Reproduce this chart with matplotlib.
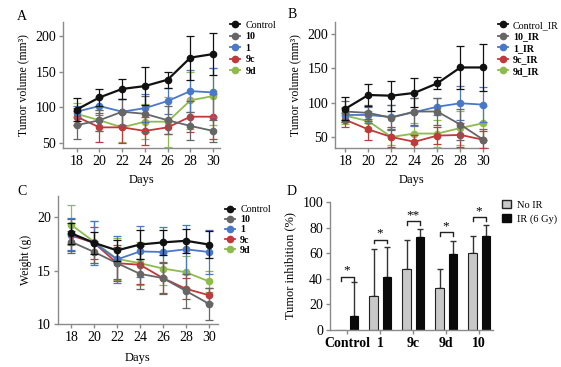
import numpy as np
import matplotlib
matplotlib.use("Agg")
import matplotlib.pyplot as plt
from matplotlib.lines import Line2D
from matplotlib.patches import Patch

plt.rcParams['font.family'] = ['Liberation Serif', 'DejaVu Serif']
plt.rcParams['font.size'] = 9

days = [18, 20, 22, 24, 26, 28, 30]

# panel A - tumor volume, no IR
a_names = ['Control', '10', '1', '9c', '9d']
a_ctrl = [97, 114, 126, 130, 139, 170, 175]
a_10 = [75, 82, 94, 91, 82, 74, 67]
a_1 = [94, 102, 94, 99, 109, 123, 121]
a_9c = [87, 72, 72, 67, 72, 87, 87]
a_9d = [91, 82, 72, 80, 80, 110, 116]
a_ctrl_err = [16, 12, 14, 27, 11, 31, 29]
a_10_err = [20, 15, 18, 25, 20, 20, 15]
a_1_err = [8, 12, 18, 20, 18, 30, 35]
a_9c_err = [12, 20, 22, 20, 10, 22, 32]
a_9d_err = [15, 15, 20, 25, 35, 40, 40]

# panel B - tumor volume, IR
b_names = ['Control_IR', '10_IR', '1_IR', '9c_IR', '9d_IR']
b_ctrl = [91, 111, 110, 114, 128, 151, 151]
b_10 = [87, 85, 78, 87, 87, 68, 46]
b_1 = [82, 82, 79, 86, 94, 99, 97]
b_9c = [75, 61, 50, 43, 52, 53, 46]
b_9d = [81, 73, 50, 55, 55, 63, 70]
b_ctrl_err = [17, 16, 22, 21, 9, 31, 34]
b_10_err = [15, 12, 18, 20, 20, 22, 15]
b_1_err = [10, 12, 18, 20, 12, 25, 25]
b_9c_err = [10, 15, 15, 10, 12, 18, 12]
b_9d_err = [12, 15, 12, 15, 20, 25, 25]

# panel C - body weight
c_names = ['Control', '10', '1', '9c', '9d']
c_ctrl = [18.5, 17.6, 16.9, 17.45, 17.65, 17.8, 17.45]
c_10 = [17.7, 16.75, 15.7, 14.7, 14.3, 13.1, 11.9]
c_1 = [18.45, 17.6, 16.05, 16.8, 16.75, 17.0, 16.75]
c_9c = [18.3, 17.6, 15.7, 15.55, 14.3, 13.3, 12.7]
c_9d = [19.3, 17.7, 16.1, 15.7, 15.2, 14.85, 14.0]
c_ctrl_err = [1.0, 1.0, 1.0, 1.4, 1.2, 1.1, 1.3]
c_10_err = [1.0, 1.0, 1.5, 1.4, 1.5, 1.6, 1.5]
c_1_err = [1.5, 2.1, 2.2, 2.4, 2.3, 2.3, 2.1]
c_9c_err = [1.5, 1.5, 1.7, 1.8, 1.4, 1.0, 0.7]
c_9d_err = [1.9, 2.0, 2.0, 2.0, 1.5, 1.5, 1.0]

# panel D - tumor inhibition
d_groups = ['Control', '1', '9c', '9d', '10']
d_noir = [0, 26.5, 47.5, 33, 60.5]
d_noir_err = [0, 36.4, 22.5, 14.5, 13.3]
d_ir = [11.2, 41.3, 72.5, 59.7, 73.2]
d_ir_err = [26.5, 23.9, 6.7, 10.2, 9.1]
d_sig = ['*', '*', '**', '*', '*']
d_sig_y = [41.6, 70.6, 85, 76.6, 88.3]

colors = ['#111111', '#666666', '#4a78c8', '#c0393b', '#8dbb4c']
spine_col = '#8a8a8a'


def style_ax(ax):
    for s in ['top', 'right']:
        ax.spines[s].set_visible(False)
    for s in ['left', 'bottom']:
        ax.spines[s].set_color(spine_col)
        ax.spines[s].set_linewidth(1.0)
    ax.tick_params(color=spine_col, length=3, width=1.0, labelsize=10, pad=2)


def line_panel(ax, names, series, errs, legend_pos, spacing=0.25):
    for i in range(len(series) - 1, -1, -1):
        lw = 1.6 if i == 0 else 1.3
        ax.errorbar(days, series[i], yerr=errs[i], color=colors[i], lw=lw,
                    marker='o', ms=4.5, capsize=2.8, elinewidth=0.9, capthick=0.9,
                    zorder=3 + (len(series) - i))
    handles = [Line2D([], [], color=colors[i], lw=1.3, marker='o', ms=4.5)
               for i in range(len(names))]
    leg = ax.legend(handles, names, loc='upper left', bbox_to_anchor=legend_pos,
                    frameon=False, fontsize=7.2, handlelength=1.0, handletextpad=0.5,
                    labelspacing=spacing, borderaxespad=0)
    for i, t in enumerate(leg.get_texts()):
        if i > 0:
            t.set_fontweight('bold')
    ax.set_xticks(days)
    ax.set_xlabel('Days', fontsize=9)
    style_ax(ax)


fig = plt.figure(figsize=(5.61, 3.67), dpi=100)

# A
axA = fig.add_axes([0.1123, 0.5967, 0.2799, 0.3433])
line_panel(axA, a_names, [a_ctrl, a_10, a_1, a_9c, a_9d],
           [a_ctrl_err, a_10_err, a_1_err, a_9c_err, a_9d_err], (1.04, 1.04))
axA.set_xlim(16.8, 30.6)
axA.set_ylim(43, 220)
axA.set_yticks([50, 100, 150, 200])
axA.set_ylabel('Tumor volume (mm³)', fontsize=8.5)

# B
axB = fig.add_axes([0.5971, 0.5967, 0.2727, 0.3433])
line_panel(axB, b_names, [b_ctrl, b_10, b_1, b_9c, b_9d],
           [b_ctrl_err, b_10_err, b_1_err, b_9c_err, b_9d_err], (1.04, 1.04))
axB.set_xlim(17.1, 30.4)
axB.set_ylim(34, 217)
axB.set_yticks([50, 100, 150, 200])
axB.set_ylabel('Tumor volume (mm³)', fontsize=8.5)

# C
axC = fig.add_axes([0.1034, 0.1172, 0.2852, 0.3488])
line_panel(axC, c_names, [c_ctrl, c_10, c_1, c_9c, c_9d],
           [c_ctrl_err, c_10_err, c_1_err, c_9c_err, c_9d_err], (1.02, 0.96), spacing=0.12)
axC.set_xlim(16.85, 30.8)
axC.set_ylim(10, 22)
axC.set_yticks([10, 15, 20])
axC.set_ylabel('Weight (g)', fontsize=8.5)
axC.xaxis.labelpad = 6

# D
axD = fig.add_axes([0.5882, 0.1008, 0.2906, 0.3488])
x = np.arange(len(d_groups))
off = 0.2
w = 0.25
axD.bar(x - off, d_noir, w, color='#c8c8c8', edgecolor='#222222', lw=0.8, zorder=2)
axD.bar(x + off, d_ir, w, color='#0a0a0a', edgecolor='#0a0a0a', lw=0.8, zorder=2)
# one-sided error bars
axD.errorbar(x[1:] - off, np.array(d_noir[1:]), yerr=[np.zeros(4), d_noir_err[1:]],
             fmt='none', ecolor='#333333', elinewidth=1.0, capsize=2.5, capthick=1.0, zorder=1)
axD.errorbar(x + off, d_ir, yerr=[np.zeros(5), d_ir_err],
             fmt='none', ecolor='#333333', elinewidth=1.0, capsize=2.5, capthick=1.0, zorder=1)
for i in range(len(d_groups)):
    yb = d_sig_y[i]
    axD.plot([x[i] - off, x[i] - off, x[i] + off, x[i] + off],
             [yb - 3, yb, yb, yb - 3], color='#222222', lw=1.0)
    axD.text(x[i], yb, d_sig[i], ha='center', va='bottom', fontsize=9.5)
axD.set_xticks(x)
axD.set_xticklabels(d_groups, fontweight='bold')
axD.set_xlim(-0.52, 4.42)
axD.set_ylim(0, 100)
axD.set_yticks([0, 20, 40, 60, 80, 100])
axD.set_ylabel('Tumor inhibition (%)', fontsize=9)
style_ax(axD)
axD.legend([Patch(facecolor='#c8c8c8', edgecolor='#222222'),
            Patch(facecolor='#0a0a0a', edgecolor='#0a0a0a')],
           ['No IR', 'IR (6 Gy)'], loc='upper left', bbox_to_anchor=(1.03, 1.05),
           frameon=False, fontsize=7.5, handlelength=0.9, handleheight=0.9,
           handletextpad=0.5, labelspacing=0.4, borderaxespad=0)

# panel letters
for lab, px, py in [('A', 22, 16), ('B', 292, 15), ('C', 22, 192), ('D', 292, 192)]:
    fig.text(px / 561, 1 - py / 367, lab, fontsize=10, ha='center', va='center')

fig.savefig('out.png', dpi=100)
